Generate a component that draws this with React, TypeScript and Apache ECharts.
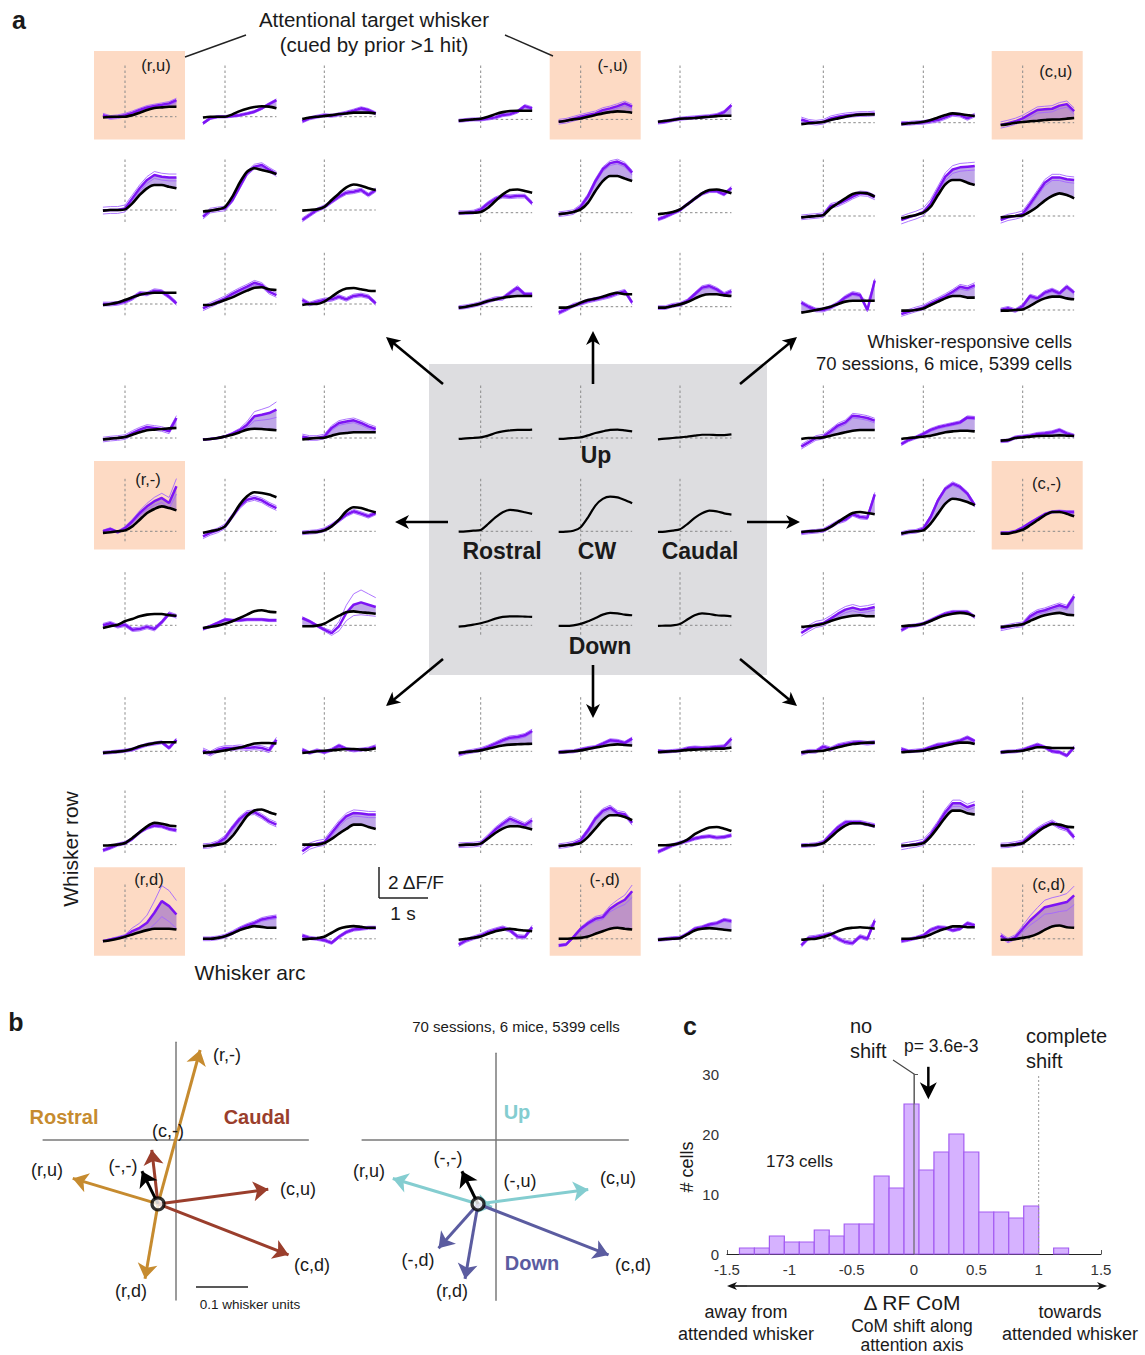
import React, { useEffect, useRef } from "react";
import * as echarts from "echarts";

// ---------------- DATA ----------------
// time points (s) of every mini trace in panel a
const T = [-0.45, -0.3, -0.15, 0, 0.15, 0.3, 0.45, 0.6, 0.75, 0.9, 1.05];

// mean ΔF/F, all trials (black), per whisker row r (0..8) and arc c (0..8)
const BLACK_ROW_0 = [
  [-0.05, 0, 0, 0, 0.1, 0.25, 0.43, 0.56, 0.6, 0.64, 0.64],
  [-0.05, 0, 0, 0, 0.15, 0.36, 0.52, 0.62, 0.67, 0.65, 0.54],
  [-0.15, -0.05, 0, 0.04, 0.1, 0.17, 0.21, 0.26, 0.26, 0.26, 0.21],
  [-0.09, -0.04, 0, 0.04, 0.17, 0.34, 0.47, 0.54, 0.56, 0.56, 0.56],
  [-0.15, -0.09, 0, 0.06, 0.17, 0.28, 0.39, 0.47, 0.52, 0.49, 0.43],
  [-0.15, -0.09, -0.04, 0.04, 0.06, 0.09, 0.13, 0.17, 0.21, 0.24, 0.24],
  [-0.09, -0.04, 0, 0.04, 0.17, 0.28, 0.39, 0.47, 0.52, 0.54, 0.54],
  [-0.09, -0.04, 0, 0.06, 0.17, 0.34, 0.49, 0.6, 0.56, 0.49, 0.43],
  [-0.15, -0.09, 0, 0.04, 0.09, 0.13, 0.17, 0.21, 0.21, 0.26, 0.3],
];
const BLACK_ROW_1 = [
  [-0.04, 0, 0, 0.04, 0.43, 0.97, 1.4, 1.61, 1.61, 1.5, 1.4],
  [-0.1, -0.04, 0.04, 0.2, 0.86, 1.76, 2.47, 2.69, 2.58, 2.47, 2.32],
  [-0.04, 0, 0.04, 0.2, 0.64, 1.07, 1.46, 1.65, 1.57, 1.4, 1.29],
  [-0.04, 0, 0, 0.04, 0.32, 0.75, 1.18, 1.46, 1.5, 1.4, 1.29],
  [-0.1, -0.04, 0.04, 0.21, 0.65, 1.4, 2.04, 2.37, 2.37, 2.2, 2.04],
  [-0.1, -0.04, 0.04, 0.21, 0.54, 0.9, 1.25, 1.46, 1.5, 1.4, 1.25],
  [-0.09, -0.04, 0, 0.06, 0.5, 0.82, 1.14, 1.42, 1.5, 1.46, 1.25],
  [-0.15, -0.04, 0.06, 0.21, 0.6, 1.35, 2.04, 2.32, 2.32, 2.15, 2.0],
  [-0.09, -0.04, 0, 0.04, 0.28, 0.6, 0.99, 1.29, 1.46, 1.35, 1.14],
];
const BLACK_ROW_2 = [
  [-0.06, 0, 0.09, 0.26, 0.43, 0.6, 0.69, 0.73, 0.73, 0.73, 0.73],
  [-0.06, -0.06, 0.09, 0.26, 0.43, 0.65, 0.86, 1.05, 1.08, 0.95, 0.9],
  [-0.06, 0, 0, 0.15, 0.47, 0.8, 1.0, 1.03, 0.95, 0.86, 0.84],
  [-0.06, 0, 0.09, 0.21, 0.37, 0.47, 0.58, 0.65, 0.69, 0.69, 0.69],
  [-0.06, -0.06, 0.04, 0.26, 0.43, 0.52, 0.65, 0.8, 0.9, 0.8, 0.8],
  [-0.06, -0.06, 0.04, 0.15, 0.3, 0.52, 0.73, 0.8, 0.8, 0.73, 0.69],
  [-0.17, -0.09, 0, 0.09, 0.21, 0.39, 0.54, 0.6, 0.6, 0.6, 0.6],
  [-0.04, -0.04, 0, 0.09, 0.32, 0.54, 0.75, 0.9, 0.9, 0.8, 0.8],
  [-0.04, -0.04, 0, 0.04, 0.26, 0.54, 0.75, 0.86, 0.86, 0.75, 0.69],
];
const BLACK_ROW_3 = [
  [-0.1, -0.04, 0, 0.06, 0.21, 0.37, 0.5, 0.54, 0.58, 0.62, 0.65],
  [-0.1, -0.06, 0, 0.1, 0.21, 0.37, 0.54, 0.6, 0.58, 0.54, 0.5],
  [-0.1, -0.04, 0, 0.02, 0.15, 0.28, 0.32, 0.37, 0.37, 0.37, 0.37],
  [-0.06, -0.02, 0, 0.04, 0.15, 0.32, 0.43, 0.49, 0.52, 0.52, 0.54],
  [-0.06, -0.04, 0, 0.04, 0.17, 0.32, 0.43, 0.52, 0.54, 0.49, 0.43],
  [-0.09, -0.04, 0, 0.04, 0.09, 0.15, 0.21, 0.21, 0.19, 0.19, 0.23],
  [-0.06, 0, 0, 0.04, 0.15, 0.26, 0.37, 0.47, 0.52, 0.52, 0.52],
  [-0.06, 0, 0.04, 0.09, 0.15, 0.26, 0.37, 0.43, 0.47, 0.47, 0.43],
  [-0.17, -0.13, 0, 0.04, 0.09, 0.13, 0.15, 0.15, 0.17, 0.15, 0.13],
];
const BLACK_ROW_4 = [
  [-0.1, -0.06, 0, 0.06, 0.32, 0.75, 1.18, 1.44, 1.61, 1.5, 1.35],
  [-0.1, 0, 0.1, 0.32, 0.97, 1.72, 2.26, 2.52, 2.47, 2.37, 2.2],
  [-0.1, -0.06, -0.04, 0.06, 0.32, 0.75, 1.29, 1.55, 1.5, 1.35, 1.22],
  [-0.02, 0, 0.04, 0.09, 0.47, 0.9, 1.23, 1.38, 1.33, 1.23, 1.12],
  [-0.04, -0.02, 0.04, 0.26, 0.9, 1.66, 2.09, 2.24, 2.19, 2.02, 1.81],
  [-0.04, -0.02, 0.04, 0.13, 0.47, 0.86, 1.16, 1.33, 1.29, 1.16, 1.08],
  [-0.04, 0, 0.02, 0.06, 0.28, 0.6, 0.92, 1.18, 1.25, 1.18, 1.1],
  [-0.15, -0.04, 0, 0.06, 0.5, 1.14, 1.78, 2.1, 2.04, 1.89, 1.68],
  [-0.15, -0.15, -0.04, 0.1, 0.39, 0.71, 1.03, 1.25, 1.25, 1.14, 0.97],
];
const BLACK_ROW_5 = [
  [-0.17, -0.06, 0.04, 0.26, 0.41, 0.58, 0.69, 0.73, 0.73, 0.65, 0.62],
  [-0.17, -0.1, -0.02, 0.1, 0.26, 0.47, 0.69, 0.9, 0.97, 0.88, 0.84],
  [-0.06, -0.06, -0.02, 0.1, 0.37, 0.62, 0.84, 0.9, 0.84, 0.8, 0.75],
  [-0.09, -0.04, 0.04, 0.13, 0.26, 0.43, 0.54, 0.58, 0.58, 0.56, 0.54],
  [-0.04, -0.04, 0, 0.09, 0.26, 0.47, 0.69, 0.8, 0.77, 0.69, 0.65],
  [-0.04, -0.02, 0, 0.09, 0.37, 0.65, 0.77, 0.73, 0.65, 0.62, 0.58],
  [-0.1, -0.06, 0, 0.1, 0.28, 0.43, 0.54, 0.62, 0.65, 0.58, 0.58],
  [-0.06, -0.02, 0, 0.1, 0.28, 0.49, 0.65, 0.75, 0.8, 0.75, 0.58],
  [-0.1, -0.06, 0, 0.06, 0.28, 0.49, 0.65, 0.75, 0.8, 0.69, 0.65],
];
const BLACK_ROW_6 = [
  [-0.1, -0.06, -0.02, 0.04, 0.15, 0.32, 0.43, 0.54, 0.58, 0.58, 0.58],
  [-0.1, -0.06, -0.02, 0.06, 0.15, 0.24, 0.37, 0.5, 0.54, 0.54, 0.5],
  [-0.1, -0.06, 0, 0.04, 0.06, 0.11, 0.15, 0.15, 0.11, 0.11, 0.19],
  [-0.1, -0.04, 0, 0.06, 0.17, 0.28, 0.37, 0.43, 0.45, 0.47, 0.49],
  [-0.06, -0.04, 0, 0.06, 0.15, 0.24, 0.32, 0.41, 0.45, 0.41, 0.37],
  [-0.06, -0.02, 0, 0.04, 0.09, 0.11, 0.13, 0.15, 0.17, 0.17, 0.24],
  [-0.06, -0.02, 0, 0.04, 0.15, 0.26, 0.37, 0.47, 0.52, 0.56, 0.56],
  [-0.06, -0.02, 0, 0.04, 0.15, 0.26, 0.37, 0.47, 0.56, 0.56, 0.47],
  [-0.06, -0.02, 0, 0.04, 0.15, 0.26, 0.26, 0.21, 0.21, 0.21, 0.21],
];
const BLACK_ROW_7 = [
  [-0.06, -0.04, 0, 0.1, 0.43, 0.8, 1.18, 1.4, 1.35, 1.23, 1.18],
  [-0.1, -0.06, 0, 0.1, 0.54, 1.18, 1.83, 2.2, 2.26, 2.09, 1.94],
  [0, 0, 0, 0.1, 0.37, 0.71, 1.01, 1.29, 1.29, 1.14, 1.01],
  [-0.04, 0, 0, 0.06, 0.39, 0.75, 1.03, 1.18, 1.18, 1.1, 0.97],
  [-0.1, -0.04, 0, 0.11, 0.5, 1.03, 1.57, 1.89, 1.89, 1.78, 1.57],
  [-0.04, -0.04, 0, 0.11, 0.32, 0.67, 0.92, 1.1, 1.14, 1.03, 0.88],
  [-0.06, -0.04, -0.02, 0.09, 0.47, 0.9, 1.23, 1.38, 1.38, 1.29, 1.16],
  [-0.06, -0.04, 0, 0.09, 0.52, 1.12, 1.76, 2.19, 2.19, 2.02, 1.94],
  [-0.06, -0.04, 0, 0.09, 0.43, 0.8, 1.12, 1.33, 1.29, 1.16, 1.12],
];
const BLACK_ROW_8 = [
  [-0.15, -0.09, 0, 0.13, 0.28, 0.43, 0.56, 0.65, 0.65, 0.65, 0.6],
  [0, 0, 0.06, 0.17, 0.34, 0.56, 0.71, 0.82, 0.77, 0.71, 0.71],
  [-0.04, 0, 0.04, 0.13, 0.39, 0.65, 0.77, 0.82, 0.77, 0.71, 0.71],
  [-0.06, 0, 0.06, 0.15, 0.32, 0.49, 0.58, 0.65, 0.58, 0.54, 0.49],
  [0, 0, 0.04, 0.06, 0.15, 0.32, 0.49, 0.65, 0.71, 0.65, 0.6],
  [-0.06, -0.02, 0, 0.04, 0.28, 0.54, 0.65, 0.69, 0.65, 0.58, 0.54],
  [-0.06, -0.02, 0, 0.11, 0.28, 0.49, 0.65, 0.71, 0.75, 0.71, 0.65],
  [0, 0, 0.04, 0.11, 0.28, 0.49, 0.65, 0.8, 0.8, 0.75, 0.75],
  [-0.06, -0.06, -0.02, 0.06, 0.15, 0.32, 0.58, 0.8, 0.86, 0.75, 0.71],
];

// mean ΔF/F, attention trials (purple); null = centre block (no attention trace)
const PURPLE_ROW_0 = [
  [0.1, -0.05, 0, 0.1, 0.25, 0.43, 0.6, 0.69, 0.77, 0.86, 1.07],
  [-0.43, -0.1, 0, 0, 0.04, 0.1, 0.2, 0.32, 0.54, 0.82, 1.07],
  [-0.3, -0.1, 0, 0.1, 0.06, 0.15, 0.26, 0.39, 0.54, 0.43, 0.21],
  [-0.09, -0.04, 0, 0, 0.06, 0.13, 0.28, 0.34, 0.5, 0.86, 0.71],
  [-0.15, -0.09, 0.04, 0.17, 0.28, 0.39, 0.6, 0.71, 0.86, 1.03, 0.82],
  [-0.2, -0.15, -0.04, 0.04, 0.09, 0.13, 0.17, 0.21, 0.28, 0.47, 0.92],
  [0.21, 0.06, 0, 0.06, 0.28, 0.39, 0.47, 0.52, 0.56, 0.56, 0.6],
  [-0.04, -0.04, 0, 0.02, 0.09, 0.17, 0.34, 0.54, 0.49, 0.28, 0.49],
  [-0.15, -0.04, 0.09, 0.28, 0.55, 0.82, 0.86, 0.9, 1.1, 1.2, 0.75],
];
const PURPLE_ROW_1 = [
  [-0.04, 0, 0, 0.1, 0.75, 1.4, 1.94, 2.26, 2.15, 2.1, 2.1],
  [-0.43, -0.04, 0.04, 0.1, 0.64, 1.5, 2.37, 2.8, 2.9, 2.6, 2.32],
  [-0.64, -0.32, 0, 0.2, 0.54, 0.86, 1.12, 1.18, 1.29, 0.97, 1.29],
  [0, 0, 0.04, 0.21, 0.6, 0.9, 1.07, 1.03, 1.07, 1.07, 0.6],
  [-0.1, -0.04, 0.04, 0.39, 1.07, 2.04, 2.8, 3.2, 3.3, 3.1, 2.58],
  [-0.43, -0.26, -0.04, 0.17, 0.54, 0.9, 1.23, 1.4, 1.4, 1.18, 1.6],
  [-0.09, -0.04, 0, 0.06, 0.65, 0.77, 0.99, 1.25, 1.46, 1.42, 1.2],
  [-0.26, -0.09, 0.06, 0.26, 0.82, 1.68, 2.54, 3.0, 3.14, 3.18, 3.22],
  [-0.26, -0.09, 0, 0.13, 0.77, 1.46, 2.15, 2.49, 2.49, 2.37, 2.32],
];
const PURPLE_ROW_2 = [
  [0, 0, 0.04, 0.15, 0.37, 0.69, 0.65, 0.86, 0.8, 0.47, 0.04],
  [-0.28, -0.06, 0.15, 0.37, 0.65, 0.9, 1.12, 1.37, 1.23, 0.8, 0.58],
  [0.26, 0, 0.15, 0.26, 0.3, 0.47, 0.3, 0.52, 0.58, 0.47, 0.04],
  [-0.06, 0, 0.09, 0.21, 0.37, 0.52, 0.54, 0.9, 1.23, 0.8, 0.8],
  [-0.39, -0.17, 0.09, 0.21, 0.37, 0.47, 0.58, 0.69, 0.86, 1.0, 0.26],
  [-0.06, -0.06, 0.09, 0.15, 0.37, 0.8, 1.23, 1.33, 1.12, 0.8, 1.0],
  [0.47, 0.21, 0, 0, 0.17, 0.43, 0.82, 1.07, 0.97, 0, 1.9],
  [-0.26, -0.11, 0.04, 0.17, 0.43, 0.65, 0.9, 1.18, 1.5, 1.4, 1.61],
  [0, 0.11, -0.04, 0.26, 0.9, 0.75, 1.12, 1.29, 1.07, 1.5, 1.12],
];
const PURPLE_ROW_3 = [
  [-0.1, -0.04, 0, 0.06, 0.32, 0.54, 0.71, 0.65, 0.58, 0.43, 1.29],
  [-0.1, -0.06, 0, 0.1, 0.28, 0.5, 0.86, 1.4, 1.5, 1.61, 1.83],
  [0.1, 0, 0, 0.1, 0.65, 0.97, 1.07, 1.14, 0.97, 0.75, 0.58],
  null,
  null,
  null,
  [-0.56, -0.28, 0, 0.09, 0.43, 0.8, 1.01, 1.44, 1.38, 1.29, 1.12],
  [-0.39, -0.13, 0.04, 0.26, 0.52, 0.69, 0.8, 0.9, 1.01, 1.33, 1.29],
  [-0.2, -0.17, 0.04, 0.09, 0.15, 0.26, 0.3, 0.37, 0.52, 0.3, 0.15],
];
const PURPLE_ROW_4 = [
  [0, 0.15, -0.06, 0.21, 0.65, 1.18, 1.61, 1.94, 2.15, 1.83, 2.9],
  [-0.32, -0.1, 0.06, 0.32, 0.97, 1.61, 2.04, 2.15, 2.0, 1.72, 1.5],
  [-0.1, -0.06, -0.02, 0.1, 0.37, 0.71, 1.07, 1.29, 1.14, 0.97, 1.18],
  null,
  null,
  null,
  [-0.1, -0.04, 0, 0.06, 0.32, 0.6, 0.75, 1.1, 0.92, 0.88, 2.39],
  [-0.15, -0.04, 0, 0.17, 0.92, 2.0, 2.75, 3.07, 2.86, 2.43, 1.68],
  [-0.1, -0.1, 0, 0.24, 0.54, 0.82, 1.1, 1.25, 1.29, 1.25, 1.25],
];
const PURPLE_ROW_5 = [
  [0, 0.13, -0.06, 0.04, -0.28, -0.24, -0.1, -0.24, 0.2, 0.75, 0.58],
  [-0.24, -0.06, 0.15, 0.37, 0.32, 0.32, 0.37, 0.37, 0.37, 0.32, 0.32],
  [0.47, 0.26, -0.02, -0.28, -0.5, -0.06, 0.8, 1.33, 1.48, 1.33, 1.18],
  null,
  null,
  null,
  [-0.5, -0.2, 0.06, 0.15, 0.43, 0.75, 1.01, 1.14, 1.01, 1.07, 1.18],
  [-0.32, -0.06, 0, 0.1, 0.32, 0.54, 0.75, 0.86, 0.86, 0.86, 0.54],
  [-0.2, -0.1, 0, 0.06, 0.58, 0.86, 0.97, 1.14, 1.29, 1.14, 1.87],
];
const PURPLE_ROW_6 = [
  [-0.1, -0.06, -0.02, 0.04, 0.11, 0.28, 0.43, 0.5, 0.58, 0.21, 0.75],
  [0.06, -0.15, 0.1, 0.21, 0.21, 0.26, 0.21, 0.26, 0.21, 0.06, 0.75],
  [0.1, -0.1, 0.06, -0.06, 0.1, 0.37, 0.15, 0.06, 0.11, 0.17, 0.32],
  [-0.2, -0.06, 0.02, 0.11, 0.28, 0.49, 0.71, 0.88, 0.92, 1.03, 1.31],
  [-0.06, -0.02, 0, 0.11, 0.21, 0.28, 0.49, 0.71, 0.67, 0.54, 0.82],
  [0.02, -0.02, 0.02, 0.06, 0.19, 0.24, 0.21, 0.24, 0.28, 0.32, 0.82],
  [-0.13, 0, 0, 0.3, 0.15, 0.37, 0.47, 0.56, 0.58, 0.52, 0.58],
  [0.15, 0, 0.04, 0.09, 0.26, 0.43, 0.47, 0.58, 0.69, 0.9, 0.65],
  [-0.06, -0.02, 0, 0.09, 0.26, 0.43, 0.26, 0, -0.06, -0.28, 0.26],
];
const PURPLE_ROW_7 = [
  [-0.37, -0.2, 0, 0.1, 0.37, 0.8, 1.08, 1.23, 1.18, 1.01, 0.92],
  [-0.1, -0.06, 0.1, 0.43, 1.08, 1.66, 2.04, 2.09, 1.83, 1.5, 1.29],
  [-0.43, -0.1, 0.06, 0.15, 0.75, 1.35, 1.83, 2.04, 2.0, 1.94, 1.94],
  [-0.04, -0.02, 0, 0.06, 0.5, 0.97, 1.35, 1.68, 1.46, 1.25, 1.57],
  [-0.1, -0.04, 0.06, 0.28, 0.92, 1.68, 2.17, 2.39, 2.04, 1.96, 1.4],
  [-0.47, -0.26, -0.04, 0.11, 0.24, 0.39, 0.49, 0.54, 0.45, 0.49, 0.6],
  [-0.06, -0.04, 0, 0.15, 0.65, 1.12, 1.44, 1.44, 1.44, 1.33, 1.23],
  [-0.13, -0.04, 0.04, 0.15, 0.65, 1.33, 2.09, 2.67, 2.67, 2.41, 2.58],
  [-0.06, -0.04, 0.04, 0.15, 0.58, 0.95, 1.23, 1.44, 1.16, 1.01, 0.47],
];
const PURPLE_ROW_8 = [
  [-0.15, -0.04, 0.06, 0.17, 0.5, 0.71, 1.03, 1.68, 2.43, 2.11, 1.57],
  [0, 0, 0.06, 0.17, 0.39, 0.65, 0.86, 1.03, 1.25, 1.35, 1.42],
  [0.21, 0.06, 0, -0.09, -0.26, 0.13, 0.43, 0.6, 0.65, 0.71, 0.71],
  [-0.37, -0.11, 0.06, 0.21, 0.43, 0.58, 0.71, 0.54, 0.15, 0.11, 0.75],
  [-0.43, -0.37, 0.11, 0.65, 1.01, 1.29, 1.4, 1.94, 2.26, 2.52, 3.07],
  [-0.06, -0.02, 0.04, 0.06, 0.32, 0.65, 0.75, 0.92, 1.01, 1.22, 1.14],
  [-0.43, 0.06, 0.11, 0.21, 0.32, 0, -0.21, -0.28, 0.15, 0, 1.18],
  [-0.15, -0.06, 0.06, 0.21, 0.58, 0.75, 0.71, 0.54, 0.65, 1.01, 0.86],
  [0.21, -0.11, 0.11, 0.65, 1.18, 1.61, 2.04, 2.15, 2.26, 2.37, 2.8],
];

// s.e.m. of the attention trace (single value, or one per time point)
const SEM_ROWS: any[][] = [
  [0.12, 0.08, 0.1, 0.1, 0.15, 0.1, 0.15, 0.12, 0.2],
  [0.22, 0.15, 0.12, 0.12, 0.15, 0.1, 0.15, 0.25, 0.2],
  [0.12, 0.15, 0.12, 0.12, 0.12, 0.12, 0.12, 0.15, 0.12],
  [0.15, [0.05, 0.05, 0.05, 0.05, 0.08, 0.12, 0.2, 0.3, 0.35, 0.4, 0.5], 0.15, 0, 0, 0, 0.15, 0.1, 0.1],
  [[0.08, 0.08, 0.08, 0.1, 0.12, 0.15, 0.2, 0.25, 0.3, 0.35, 0.5], 0.15, 0.12, 0, 0, 0, 0.12, 0.12, 0.08],
  [0.12, 0.08, [0.08, 0.08, 0.08, 0.1, 0.15, 0.3, 0.5, 0.7, 0.8, 0.7, 0.6], 0, 0, 0, 0.2, 0.1, 0.15],
  [0.1, 0.15, 0.1, 0.12, 0.1, 0.1, 0.12, 0.1, 0.1],
  [0.1, 0.15, 0.2, 0.15, 0.15, 0.1, 0.12, 0.2, 0.15],
  [[0.05, 0.05, 0.08, 0.1, 0.2, 0.3, 0.5, 0.75, 1.0, 1.0, 0.9], 0.12, 0.1, 0.12,
   [0.08, 0.08, 0.08, 0.1, 0.12, 0.15, 0.15, 0.2, 0.25, 0.3, 0.4], 0.1, 0.12, 0.1,
   [0.15, 0.15, 0.15, 0.2, 0.3, 0.4, 0.45, 0.5, 0.5, 0.55, 0.6]],
];

const BLACK_ROWS = [BLACK_ROW_0, BLACK_ROW_1, BLACK_ROW_2, BLACK_ROW_3, BLACK_ROW_4, BLACK_ROW_5, BLACK_ROW_6, BLACK_ROW_7, BLACK_ROW_8];
const PURPLE_ROWS: any[][] = [PURPLE_ROW_0, PURPLE_ROW_1, PURPLE_ROW_2, PURPLE_ROW_3, PURPLE_ROW_4, PURPLE_ROW_5, PURPLE_ROW_6, PURPLE_ROW_7, PURPLE_ROW_8];

// attentional-target panels
const HIGHLIGHT_CELLS = [[0, 0], [0, 4], [0, 8], [4, 0], [4, 8], [8, 0], [8, 4], [8, 8]];
const HIGHLIGHT_LABELS = ["(r,u)", "(-,u)", "(c,u)", "(r,-)", "(c,-)", "(r,d)", "(-,d)", "(c,d)"];
const CENTER_LABELS = ["Up", "Rostral", "CW", "Caudal", "Down"];

// panel b: receptive-field CoM shift vectors (whisker units)
const VEC_ORIGIN = [-0.034, -0.123];
const VEC_NAMES = ["(r,-)", "(c,-)", "(-,-)", "(r,u)", "(c,u)", "(c,d)", "(r,d)", "(-,u)", "(-,d)"];
const VEC_X = [0.047, -0.046, -0.065, -0.198, 0.178, 0.217, -0.059, -0.007, -0.11];
const VEC_Y = [0.173, -0.019, -0.06, -0.074, -0.095, -0.221, -0.267, -0.129, -0.208];
const LEFT_VECS = ["(r,-)", "(r,u)", "(r,d)", "(c,-)", "(c,u)", "(c,d)", "(-,-)"];
const RIGHT_VECS = ["(r,u)", "(-,u)", "(c,u)", "(r,d)", "(-,d)", "(c,d)", "(-,-)"];

// panel c: histogram of ΔRF CoM
const HIST_COUNTS = [1, 1, 3, 2, 2, 4, 3, 5, 5, 13, 11, 25, 14, 17, 20, 17, 7, 7, 6, 8, 0, 1];
const BIN_START = -1.4;
const BIN_WIDTH = 0.12;
const MEAN_SHIFT = 0.115;
const X_TICKS_C = [-1.5, 1.5];

// ---------------- LAYOUT / STYLE ----------------
const FONT = '"Liberation Sans", Arial, Helvetica, sans-serif';
const STIM_X = [125, 225, 324.3, 480.7, 580.7, 680, 823.3, 923.3, 1022.7];
const ROW_TOP = [65, 159, 252.3, 385, 478.3, 571.7, 696.7, 790, 884];
const ROW_BASELINE = [116.7, 210, 304, 438, 531.3, 625.3, 751.3, 844.6, 938.8];
const TOP_GROUP_SHIFT = [0, 2.7, 6];
const PANEL_H = 63;
const PX_PER_S = 49;
const PX_PER_UNIT = 15.5;
const T_MIN = -0.45;
const T_MAX = 1.05;
const BOX_TOP: any = { 0: 51, 4: 461, 8: 867.3 };
const LABEL_OFFSET = [[31, 14], [32, 14], [33, 20], [23, 18], [24, 22], [24, 12], [24, 12], [26, 17]];
const CENTER_LABEL_POS = [[596, 455], [502, 551], [597, 551], [700, 551], [600, 646]];
const A_ARROWS = [
  [593, 384, 593, 331], [740, 384, 797, 337], [443, 384, 386, 337], [448, 522, 395, 522],
  [747, 522, 800, 522], [443, 659, 386, 706], [593, 665, 593, 718], [740, 659, 797, 706],
];

const PURPLE = "#7d14f4";
const THIN = "#a566ff";
const FILL = "rgba(112,60,205,0.45)";
const DASH = "#8a8a8a";
const ORANGE = "#fddac4";
const GRAYBOX = "#dddde0";
const GOLD = "#c68b2f";
const BROWN = "#9a3e2c";
const CYAN = "#84cdd0";
const NAVY = "#5b5ca0";

const semAt = (s: any, i: number) => (Array.isArray(s) ? s[i] : s);

function txt(text: string, x: number, y: number, size: number, o: any = {}) {
  return {
    type: "text", x, y, rotation: o.rotation || 0, z: 60,
    style: {
      text, fontSize: size, fontFamily: FONT, fontWeight: o.bold ? "bold" : "normal",
      fill: o.color || "#1a1a1a", align: o.align || "center", verticalAlign: "middle",
    },
  };
}
function seg(x1: number, y1: number, x2: number, y2: number, color = "#222", lw = 1.3, dash?: number[]) {
  return { type: "line", z: 60, shape: { x1, y1, x2, y2 }, style: { stroke: color, lineWidth: lw, lineDash: dash } };
}
function arrow(x1: number, y1: number, x2: number, y2: number, color = "#000", lw = 2.5, hl = 13, hw = 6.5) {
  const dx = x2 - x1, dy = y2 - y1, L = Math.hypot(dx, dy), ux = dx / L, uy = dy / L, px = -uy, py = ux;
  const bx = x2 - ux * hl, by = y2 - uy * hl;
  return [
    seg(x1, y1, x2 - ux * hl * 0.6, y2 - uy * hl * 0.6, color, lw),
    {
      type: "polygon", z: 61,
      shape: { points: [[x2, y2], [bx + px * hw, by + py * hw], [x2 - ux * hl * 0.72, y2 - uy * hl * 0.72], [bx - px * hw, by - py * hw]] },
      style: { fill: color },
    },
  ];
}

function buildOption() {
  const grid: any[] = [], xAxis: any[] = [], yAxis: any[] = [], series: any[] = [];
  const hidden = { show: false, splitLine: { show: false } };
  for (let r = 0; r < 9; r++) {
    for (let c = 0; c < 9; c++) {
      const g = r * 9 + c;
      const base = ROW_BASELINE[r] + (r < 3 ? TOP_GROUP_SHIFT[Math.floor(c / 3)] : 0);
      const top = ROW_TOP[r];
      const yMax = (base - top) / PX_PER_UNIT;
      const yMin = yMax - PANEL_H / PX_PER_UNIT;
      grid.push({ left: STIM_X[c] + T_MIN * PX_PER_S, top, width: (T_MAX - T_MIN) * PX_PER_S, height: PANEL_H });
      xAxis.push({ type: "value", gridIndex: g, min: T_MIN, max: T_MAX, ...hidden });
      yAxis.push({ type: "value", gridIndex: g, min: yMin, max: yMax, ...hidden });
      const B = BLACK_ROWS[r][c];
      const P = PURPLE_ROWS[r][c];
      const S = SEM_ROWS[r][c];
      series.push({
        type: "custom", xAxisIndex: g, yAxisIndex: g, silent: true, clip: false, z: 1,
        data: [[0, 0]],
        renderItem: (_p: any, api: any) => {
          const children: any[] = [];
          if (P) {
            const up = T.map((t, i) => api.coord([t, Math.max(P[i], B[i])]));
            const lo = T.map((t, i) => api.coord([t, B[i]])).reverse();
            children.push({ type: "polygon", shape: { points: up.concat(lo) }, style: { fill: FILL } });
          }
          const v0 = api.coord([0, yMin]), v1 = api.coord([0, yMax]);
          const h0 = api.coord([0, 0]), h1 = api.coord([T_MAX, 0]);
          children.push({ type: "line", shape: { x1: v0[0], y1: v0[1], x2: v1[0], y2: v1[1] }, style: { stroke: DASH, lineWidth: 1, lineDash: [2.5, 2.5] } });
          children.push({ type: "line", shape: { x1: h0[0], y1: h0[1], x2: h1[0], y2: h1[1] }, style: { stroke: DASH, lineWidth: 1, lineDash: [2.5, 2.5] } });
          return { type: "group", children };
        },
      });
      const lineBase = { type: "line", xAxisIndex: g, yAxisIndex: g, symbol: "none", silent: true, clip: false, animation: false };
      if (P) {
        series.push({ ...lineBase, z: 3, data: T.map((t, i) => [t, P[i] + semAt(S, i)]), lineStyle: { color: THIN, width: 0.9 } });
        series.push({ ...lineBase, z: 3, data: T.map((t, i) => [t, P[i] - semAt(S, i)]), lineStyle: { color: THIN, width: 0.9 } });
        series.push({ ...lineBase, z: 4, data: T.map((t, i) => [t, P[i]]), lineStyle: { color: PURPLE, width: 2.5 } });
      }
      series.push({ ...lineBase, z: 5, smooth: 0.25, data: T.map((t, i) => [t, B[i]]), lineStyle: { color: "#000", width: P ? 2.6 : 2.2 } });
    }
  }

  // panel c histogram (index 81)
  grid.push({ left: 727, top: 1074, width: 374, height: 180 });
  const axLbl = { fontSize: 15, color: "#333", fontFamily: FONT, margin: 8 };
  xAxis.push({
    type: "value", gridIndex: 81, min: X_TICKS_C[0], max: X_TICKS_C[1], interval: 0.5,
    axisLine: { lineStyle: { color: "#222", width: 1.2 } },
    axisTick: { show: true, inside: true, length: 4, lineStyle: { color: "#555" } },
    axisLabel: axLbl, splitLine: { show: false },
  });
  yAxis.push({
    type: "value", gridIndex: 81, min: 0, max: 30, interval: 10,
    axisLine: { show: true, lineStyle: { color: "#666", width: 1 } },
    axisTick: { show: true, inside: true, length: 4, lineStyle: { color: "#555" } },
    axisLabel: axLbl, splitLine: { show: false },
  });
  series.push({
    type: "custom", xAxisIndex: 81, yAxisIndex: 81, silent: true, z: 2,
    data: HIST_COUNTS.map((n, i) => [BIN_START + i * BIN_WIDTH, BIN_START + (i + 1) * BIN_WIDTH, n]),
    encode: { x: [0, 1], y: 2 },
    renderItem: (_p: any, api: any) => {
      const n = api.value(2);
      if (!n) return { type: "group", children: [] };
      const a = api.coord([api.value(0), n]);
      const b = api.coord([api.value(1), 0]);
      return { type: "rect", shape: { x: a[0], y: a[1], width: b[0] - a[0], height: b[1] - a[1] }, style: { fill: "#d6b2ff", stroke: "#a45cf2", lineWidth: 1.2 } };
    },
  });
  series.push({ type: "line", xAxisIndex: 81, yAxisIndex: 81, symbol: "none", silent: true, z: 3, data: [[0, 0], [0, 30]], lineStyle: { color: "#666", width: 1.2 } });
  series.push({ type: "line", xAxisIndex: 81, yAxisIndex: 81, symbol: "none", silent: true, z: 3, data: [[1, 0], [1, 30]], lineStyle: { color: "#999", width: 1, type: [2, 2] } });

  // panel b vector diagrams (82 left, 83 right)
  const bGrids = [
    { left: 43.1, top: 1042.2, width: 265.2, height: 257.9, x: [-0.255, 0.255], y: [-0.308, 0.188] },
    { left: 362.1, top: 1053.2, width: 266.2, height: 247, x: [-0.257, 0.255], y: [-0.308, 0.167] },
  ];
  const bAxis = { axisLine: { show: true, onZero: true, lineStyle: { color: "#7a7a7a", width: 1.5 } }, axisTick: { show: false }, axisLabel: { show: false }, splitLine: { show: false } };
  bGrids.forEach((bg, k) => {
    const gi = 82 + k;
    grid.push({ left: bg.left, top: bg.top, width: bg.width, height: bg.height });
    xAxis.push({ type: "value", gridIndex: gi, min: bg.x[0], max: bg.x[1], ...bAxis });
    yAxis.push({ type: "value", gridIndex: gi, min: bg.y[0], max: bg.y[1], ...bAxis });
    const names = k === 0 ? LEFT_VECS : RIGHT_VECS;
    const colorOf = (nm: string) => {
      if (k === 0) return nm[1] === "r" ? GOLD : nm[1] === "c" ? BROWN : "#000";
      return nm[3] === "u" ? CYAN : nm[3] === "d" ? NAVY : "#000";
    };
    series.push({
      type: "lines", coordinateSystem: "cartesian2d", xAxisIndex: gi, yAxisIndex: gi, silent: true, z: 4,
      symbol: ["none", "arrow"], symbolSize: 15, polyline: false,
      lineStyle: { width: 3, opacity: 1 },
      data: names.map((nm) => {
        const j = VEC_NAMES.indexOf(nm);
        return { coords: [VEC_ORIGIN, [VEC_X[j], VEC_Y[j]]], lineStyle: { color: colorOf(nm) } };
      }),
    });
    series.push({
      type: "scatter", xAxisIndex: gi, yAxisIndex: gi, silent: true, z: 6, symbol: "circle", symbolSize: 12,
      itemStyle: { color: "#fff", borderColor: "#000", borderWidth: 3.2 }, data: [VEC_ORIGIN],
    });
  });

  return { animation: false, backgroundColor: "#fff", grid, xAxis, yAxis, series };
}

function buildGraphics(chart: any) {
  const gfx: any[] = [];
  // panel a backgrounds
  gfx.push({ type: "rect", z: 0, shape: { x: 429, y: 364, width: 338, height: 311 }, style: { fill: GRAYBOX } });
  HIGHLIGHT_CELLS.forEach(([r, c], k) => {
    const top = BOX_TOP[r];
    gfx.push({ type: "rect", z: 0, shape: { x: STIM_X[c] - 31, y: top, width: 91, height: 88.5 }, style: { fill: ORANGE } });
    gfx.push(txt(HIGHLIGHT_LABELS[k], STIM_X[c] + LABEL_OFFSET[k][0], top + LABEL_OFFSET[k][1], 16.5));
  });
  CENTER_LABELS.forEach((s, k) => gfx.push(txt(s, CENTER_LABEL_POS[k][0], CENTER_LABEL_POS[k][1], 23, { bold: true })));
  A_ARROWS.forEach((a) => gfx.push(...arrow(a[0], a[1], a[2], a[3], "#000", 2.6, 14, 7)));
  gfx.push(txt("a", 19, 20, 25, { bold: true }));
  gfx.push(txt("Attentional target whisker", 374, 19, 20.5));
  gfx.push(txt("(cued by prior >1 hit)", 374, 44, 20.5));
  gfx.push(seg(185, 57, 246, 35, "#222", 1.4));
  gfx.push(seg(505, 35, 553, 56, "#222", 1.4));
  gfx.push(txt("Whisker-responsive cells", 1072, 341, 18.5, { align: "right" }));
  gfx.push(txt("70 sessions, 6 mice, 5399 cells", 1072, 363, 18.5, { align: "right" }));
  gfx.push(txt("Whisker row", 70, 849, 21, { rotation: Math.PI / 2 }));
  gfx.push(txt("Whisker arc", 250, 972, 21));
  // scale bar from panel (8,0) scales
  const sIdx = { xAxisIndex: 72, yAxisIndex: 72 };
  const s0 = chart.convertToPixel(sIdx, [0, 0]);
  const s2 = chart.convertToPixel(sIdx, [0, 2]);
  const s1 = chart.convertToPixel(sIdx, [1, 0]);
  const vLen = s0[1] - s2[1], hLen = s1[0] - s0[0];
  gfx.push(seg(379, 898 - vLen, 379, 898, "#222", 1.5));
  gfx.push(seg(379, 898, 379 + hLen, 898, "#222", 1.5));
  gfx.push(txt("2 ΔF/F", 388, 882, 19, { align: "left" }));
  gfx.push(txt("1 s", 403, 913, 19));

  // panel b
  gfx.push(txt("b", 16, 1022, 25, { bold: true }));
  gfx.push(txt("70 sessions, 6 mice, 5399 cells", 516, 1026, 15));
  gfx.push(txt("Rostral", 64, 1117, 20, { bold: true, color: GOLD }));
  gfx.push(txt("Caudal", 257, 1117, 20, { bold: true, color: BROWN }));
  gfx.push(txt("Up", 517, 1112, 20, { bold: true, color: CYAN }));
  gfx.push(txt("Down", 532, 1263, 20, { bold: true, color: NAVY }));
  const leftLbl: any[] = [["(r,-)", 227, 1055], ["(c,-)", 168, 1131], ["(-,-)", 123, 1166], ["(r,u)", 47, 1170], ["(c,u)", 298, 1189], ["(c,d)", 312, 1265], ["(r,d)", 131, 1291]];
  const rightLbl: any[] = [["(r,u)", 369, 1171], ["(-,-)", 448, 1158], ["(-,u)", 520, 1181], ["(c,u)", 618, 1178], ["(c,d)", 633, 1265], ["(-,d)", 418, 1260], ["(r,d)", 452, 1291]];
  leftLbl.concat(rightLbl).forEach((l) => gfx.push(txt(l[0], l[1], l[2], 18)));
  const bIdx = { xAxisIndex: 82, yAxisIndex: 82 };
  const b0 = chart.convertToPixel(bIdx, [0, 0]);
  const b1 = chart.convertToPixel(bIdx, [0.1, 0]);
  gfx.push(seg(196, 1287, 196 + (b1[0] - b0[0]), 1287, "#222", 1.6));
  gfx.push(txt("0.1 whisker units", 250, 1304, 13.5));

  // panel c
  const cIdx = { xAxisIndex: 81, yAxisIndex: 81 };
  const top0 = chart.convertToPixel(cIdx, [0, 30]);
  const aTop = chart.convertToPixel(cIdx, [MEAN_SHIFT, 31.2]);
  const aBot = chart.convertToPixel(cIdx, [MEAN_SHIFT, 25.8]);
  const xl = chart.convertToPixel(cIdx, [X_TICKS_C[0], 0]);
  const xr = chart.convertToPixel(cIdx, [X_TICKS_C[1], 0]);
  gfx.push(txt("c", 690, 1026, 25, { bold: true }));
  gfx.push(txt("no", 850, 1026, 20, { align: "left" }));
  gfx.push(txt("shift", 850, 1051, 20, { align: "left" }));
  gfx.push(seg(top0[0], top0[1], 893, 1060, "#444", 1.1));
  gfx.push(txt("p= 3.6e-3", 904, 1046, 17.5, { align: "left" }));
  gfx.push(...arrow(aTop[0], aTop[1], aBot[0], aBot[1], "#000", 2.5, 17, 8.5));
  gfx.push(txt("complete", 1026, 1036, 20, { align: "left" }));
  gfx.push(txt("shift", 1026, 1061, 20, { align: "left" }));
  gfx.push(txt("173 cells", 766, 1161, 17, { align: "left" }));
  gfx.push(txt("# cells", 687, 1167, 18, { rotation: Math.PI / 2 }));
  gfx.push(...arrow(xl[0] + 20, 1286, xl[0], 1286, "#111", 1.6, 10, 4));
  gfx.push(...arrow(xl[0] + 20, 1286, xr[0] + 6, 1286, "#111", 1.6, 10, 4));
  gfx.push(txt("Δ RF CoM", 912, 1302, 21));
  gfx.push(txt("away from", 746, 1312, 18));
  gfx.push(txt("attended whisker", 746, 1334, 18));
  gfx.push(txt("CoM shift along", 912, 1326, 17.5));
  gfx.push(txt("attention axis", 912, 1345, 17.5));
  gfx.push(txt("towards", 1070, 1312, 18));
  gfx.push(txt("attended whisker", 1070, 1334, 18));
  return gfx;
}

export default function App() {
  const ref = useRef<HTMLDivElement>(null);
  useEffect(() => {
    if (!ref.current) return;
    const chart = echarts.init(ref.current, null, { renderer: "svg" });
    chart.setOption(buildOption());
    chart.setOption({ graphic: buildGraphics(chart) });
    return () => chart.dispose();
  }, []);
  return <div ref={ref} style={{ position: "absolute", left: 0, top: 0, width: 1145, height: 1355, background: "#fff" }} />;
}
